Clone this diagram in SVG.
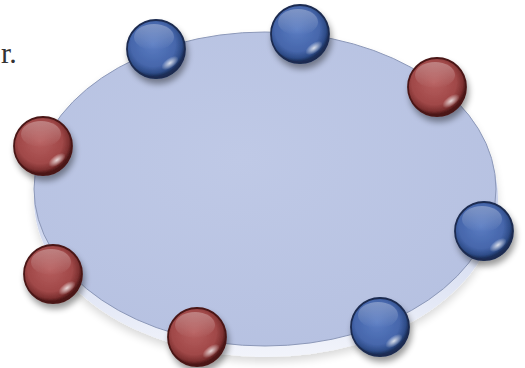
<svg xmlns="http://www.w3.org/2000/svg" width="525" height="368" viewBox="0 0 525 368">
<defs>
<radialGradient id="discFill" cx="0.45" cy="0.4" r="0.65">
<stop offset="0" stop-color="#bfc9e6"/>
<stop offset="1" stop-color="#b6c1e1"/>
</radialGradient>
<linearGradient id="rimFill" x1="0" y1="0" x2="0" y2="1">
<stop offset="0.5" stop-color="#c9d2ec"/>
<stop offset="1" stop-color="#f2f4fb"/>
</linearGradient>
<radialGradient id="blueBall" cx="0.45" cy="0.42" r="0.55">
<stop offset="0" stop-color="#5a7cc2"/>
<stop offset="0.7" stop-color="#4666ab"/>
<stop offset="0.9" stop-color="#2e4c88"/>
<stop offset="1" stop-color="#1b2e58"/>
</radialGradient>
<radialGradient id="redBall" cx="0.45" cy="0.42" r="0.55">
<stop offset="0" stop-color="#b65e5e"/>
<stop offset="0.7" stop-color="#a04848"/>
<stop offset="0.9" stop-color="#7c3030"/>
<stop offset="1" stop-color="#4e1818"/>
</radialGradient>
<radialGradient id="hiLite" cx="0.5" cy="0.5" r="0.5">
<stop offset="0" stop-color="#ffffff" stop-opacity="0.8"/>
<stop offset="1" stop-color="#ffffff" stop-opacity="0"/>
</radialGradient>
<linearGradient id="sheen" x1="0" y1="0" x2="0" y2="1">
<stop offset="0" stop-color="#ffffff" stop-opacity="0.3"/>
<stop offset="1" stop-color="#ffffff" stop-opacity="0"/>
</linearGradient>
<filter id="shadow" x="-30%" y="-30%" width="160%" height="170%">
<feGaussianBlur in="SourceAlpha" stdDeviation="3"/>
<feOffset dx="2" dy="5" result="b"/>
<feComponentTransfer><feFuncA type="linear" slope="0.4"/></feComponentTransfer>
<feMerge><feMergeNode/><feMergeNode in="SourceGraphic"/></feMerge>
</filter>
<filter id="discShadow" x="-10%" y="-10%" width="120%" height="130%">
<feGaussianBlur in="SourceAlpha" stdDeviation="4"/>
<feOffset dx="0" dy="5"/>
<feComponentTransfer><feFuncA type="linear" slope="0.15"/></feComponentTransfer>
<feMerge><feMergeNode/><feMergeNode in="SourceGraphic"/></feMerge>
</filter>
</defs>
<style>
.blue circle.body{fill:url(#blueBall);stroke:#1b2b50;stroke-width:1.8}
.red circle.body{fill:url(#redBall);stroke:#4a1717;stroke-width:1.8}
.hl{fill:url(#hiLite)}
.sh{fill:url(#sheen)}
.ball{filter:url(#shadow)}
</style>
<rect width="525" height="368" fill="#ffffff"/>
<text x="1" y="63" font-family="Liberation Serif, serif" font-size="30" fill="#333333">r.</text>
<g id="disc" filter="url(#discShadow)">
<ellipse cx="266" cy="199" rx="232" ry="158" fill="url(#rimFill)"/>
<ellipse cx="265" cy="189" rx="231" ry="157" fill="url(#discFill)" stroke="#8c98b8" stroke-width="1"/>
</g>
<g id="ball1" class="ball blue" transform="translate(156,49)">
<circle class="body" r="29"/><ellipse class="sh" cx="-2" cy="-12" rx="20" ry="13"/><ellipse class="hl" cx="14" cy="14" rx="10" ry="5" transform="rotate(-35 14 14)"/></g>
<g id="ball2" class="ball blue" transform="translate(300,34)">
<circle class="body" r="29"/><ellipse class="sh" cx="-2" cy="-12" rx="20" ry="13"/><ellipse class="hl" cx="14" cy="14" rx="10" ry="5" transform="rotate(-35 14 14)"/></g>
<g id="ball3" class="ball red" transform="translate(437,87)">
<circle class="body" r="29"/><ellipse class="sh" cx="-2" cy="-12" rx="20" ry="13"/><ellipse class="hl" cx="14" cy="14" rx="10" ry="5" transform="rotate(-35 14 14)"/></g>
<g id="ball4" class="ball red" transform="translate(43,146)">
<circle class="body" r="29"/><ellipse class="sh" cx="-2" cy="-12" rx="20" ry="13"/><ellipse class="hl" cx="14" cy="14" rx="10" ry="5" transform="rotate(-35 14 14)"/></g>
<g id="ball5" class="ball red" transform="translate(53,274)">
<circle class="body" r="29"/><ellipse class="sh" cx="-2" cy="-12" rx="20" ry="13"/><ellipse class="hl" cx="14" cy="14" rx="10" ry="5" transform="rotate(-35 14 14)"/></g>
<g id="ball6" class="ball red" transform="translate(197,337)">
<circle class="body" r="29"/><ellipse class="sh" cx="-2" cy="-12" rx="20" ry="13"/><ellipse class="hl" cx="14" cy="14" rx="10" ry="5" transform="rotate(-35 14 14)"/></g>
<g id="ball7" class="ball blue" transform="translate(380,327)">
<circle class="body" r="29"/><ellipse class="sh" cx="-2" cy="-12" rx="20" ry="13"/><ellipse class="hl" cx="14" cy="14" rx="10" ry="5" transform="rotate(-35 14 14)"/></g>
<g id="ball8" class="ball blue" transform="translate(484,231)">
<circle class="body" r="29"/><ellipse class="sh" cx="-2" cy="-12" rx="20" ry="13"/><ellipse class="hl" cx="14" cy="14" rx="10" ry="5" transform="rotate(-35 14 14)"/></g>
</svg>
